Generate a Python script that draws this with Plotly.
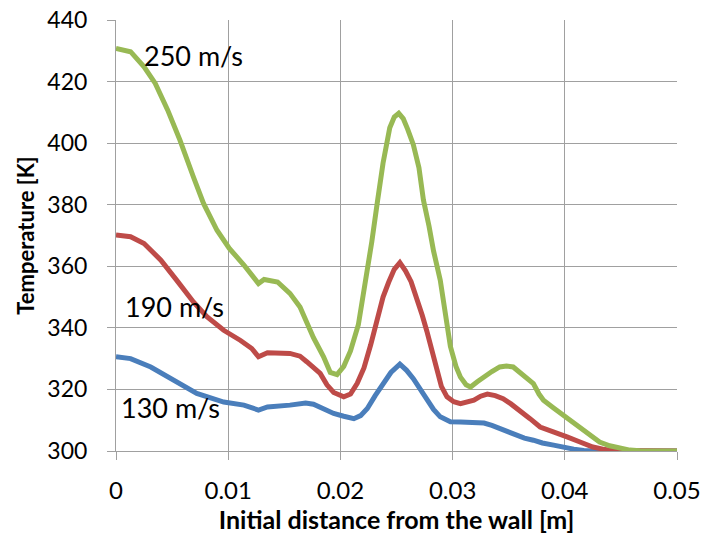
import plotly.graph_objects as go

# ---- data ----
x_130 = [0, 0.0013, 0.0031, 0.0051, 0.0072, 0.0096, 0.0114, 0.0127, 0.0135, 0.0155,
         0.0169, 0.0176, 0.0182, 0.0188, 0.0194, 0.0203, 0.0212, 0.0218, 0.0224, 0.0231,
         0.0238, 0.0245, 0.0253, 0.0259, 0.0265, 0.0271, 0.0277, 0.0283, 0.0289, 0.0298,
         0.0307, 0.0316, 0.0322, 0.0328, 0.0335, 0.0342, 0.0349, 0.0357, 0.0364, 0.0372,
         0.038, 0.039, 0.04, 0.0408, 0.0417, 0.0425, 0.05]
t_130 = [330.6, 330.0, 327.3, 323.0, 318.7, 315.9, 314.9, 313.3, 314.3, 314.9,
         315.6, 315.2, 314.3, 313.3, 312.2, 311.3, 310.5, 311.5, 313.8, 318.0,
         322.0, 325.5, 328.2, 326.2, 323.5, 320.0, 316.5, 313.5, 311.1, 309.5,
         309.4, 309.4, 309.1, 309.1, 308.3, 307.3, 306.2, 305.1, 304.2, 303.5,
         302.6, 301.9, 301.1, 300.6, 300.2, 300.0, 300.0]

x_190 = [0, 0.0013, 0.0025, 0.004, 0.0054, 0.0069, 0.0081, 0.0096, 0.0111, 0.0121,
         0.0127, 0.0135, 0.0155, 0.0164, 0.017, 0.0176, 0.0182, 0.0188, 0.0194, 0.0203,
         0.0209, 0.0215, 0.0221, 0.0227, 0.0232, 0.0238, 0.0243, 0.0248, 0.0253, 0.0258,
         0.0263, 0.0268, 0.0273, 0.0277, 0.0282, 0.0286, 0.029, 0.0295, 0.0301, 0.0307,
         0.0313, 0.0319, 0.0325, 0.0331, 0.0338, 0.0345, 0.0352, 0.036, 0.0369, 0.0378,
         0.039, 0.0402, 0.0413, 0.0425, 0.0434, 0.0443, 0.05]
t_190 = [370.2, 369.6, 367.4, 362.0, 355.5, 348.4, 343.6, 339.2, 335.9, 333.3,
         330.6, 331.9, 331.7, 330.8, 329.0, 327.3, 325.2, 321.5, 319.0, 317.6,
         318.5, 322.0, 327.0, 334.5, 341.5, 350.0, 354.8, 359.0, 361.2, 358.5,
         355.0, 350.0, 344.0, 339.0, 332.0, 326.2, 321.0, 317.6, 316.0, 315.4,
         315.8, 316.5, 317.8, 318.5, 318.0, 317.0, 315.3, 313.2, 310.5, 307.8,
         306.0, 304.6, 303.0, 301.3, 300.6, 300.2, 300.0]

x_250 = [0, 0.0013, 0.0025, 0.0035, 0.0046, 0.0057, 0.0069, 0.0078, 0.009, 0.0101,
         0.0114, 0.0127, 0.0132, 0.0144, 0.0155, 0.0164, 0.0176, 0.0185, 0.0191, 0.0197,
         0.0203, 0.0209, 0.0216, 0.0221, 0.0225, 0.0228, 0.0233, 0.0238, 0.0244, 0.0248,
         0.0252, 0.0256, 0.026, 0.0265, 0.027, 0.0274, 0.0279, 0.0283, 0.0289, 0.0294,
         0.0298, 0.0303, 0.0307, 0.0312, 0.0316, 0.0322, 0.0328, 0.0335, 0.0342, 0.0348,
         0.0354, 0.0363, 0.0372, 0.0377, 0.0381, 0.039, 0.0399, 0.0408, 0.0417, 0.0424,
         0.0431, 0.044, 0.0449, 0.0458, 0.0467, 0.05]
t_250 = [430.8, 429.7, 424.8, 419.4, 410.8, 401.0, 389.0, 380.4, 371.7, 365.8,
         360.4, 354.4, 355.7, 354.9, 351.2, 346.8, 336.8, 330.6, 325.5, 324.8,
         327.5, 332.5, 341.0, 352.0, 362.0, 368.0, 381.0, 393.5, 405.0, 408.5,
         409.7, 408.0, 404.5, 399.5, 392.0, 381.5, 373.0, 365.0, 355.5, 343.0,
         334.0, 327.5, 324.0, 321.5, 320.8, 322.5, 324.1, 325.8, 327.3, 327.6,
         327.3, 324.8, 321.9, 318.5, 316.5, 314.0, 311.6, 309.2, 306.7, 304.6,
         302.9, 301.7, 300.8, 300.3, 300.1, 300.0]

series_names = ["130 m/s", "190 m/s", "250 m/s"]
series_colors = ["#4A7EBB", "#BE4B48", "#98B954"]

x_ticks = [0, 0.01, 0.02, 0.03, 0.04, 0.05]
x_tick_labels = ["0", "0.01", "0.02", "0.03", "0.04", "0.05"]
y_ticks = [300, 320, 340, 360, 380, 400, 420, 440]

# label anchor positions (data coordinates)
label_x = [0.0003, 0.0006, 0.0023]
label_y = [314.0, 347.0, 428.5]

FONT = "Lato"
GRID = "#A0A0A0"

fig = go.Figure()
for xs, ts, name, col in zip([x_130, x_190, x_250], [t_130, t_190, t_250],
                             series_names, series_colors):
    fig.add_trace(go.Scatter(x=xs, y=ts, mode="lines", name=name,
                             line=dict(color=col, width=5)))

for name, lx, ly in zip(series_names, label_x, label_y):
    fig.add_annotation(x=lx, y=ly, text=name, showarrow=False, xanchor="left",
                       yanchor="middle", font=dict(family=FONT, size=27, color="#000000"))

fig.update_layout(
    width=702, height=541,
    margin=dict(l=115.5, r=25, t=20, b=90),
    paper_bgcolor="white", plot_bgcolor="white",
    showlegend=False,
    font=dict(family=FONT, color="#000000"),
)
fig.update_xaxes(
    range=[0, 0.05], tickvals=x_ticks, ticktext=x_tick_labels,
    showgrid=True, gridcolor=GRID, gridwidth=1,
    showline=True, linecolor=GRID, linewidth=1, mirror=False,
    ticks="outside", ticklen=8, tickcolor=GRID,
    tickfont=dict(family=FONT, size=24, color="#000000"),
    ticklabelstandoff=10,
    zeroline=False,
    title=dict(text="<b>Initial distance from the wall [m]</b>",
               font=dict(family=FONT, size=25, color="#000000"), standoff=8),
    automargin=False,
)
fig.update_yaxes(
    range=[300, 440], tickvals=y_ticks,
    showgrid=True, gridcolor=GRID, gridwidth=1,
    showline=True, linecolor=GRID, linewidth=1,
    ticks="outside", ticklen=8, tickcolor=GRID,
    tickfont=dict(family=FONT, size=23, color="#000000"),
    ticklabelstandoff=15,
    zeroline=False,
    title=dict(text="<b>Temperature [K]</b>",
               font=dict(family=FONT, size=22, color="#000000"), standoff=6),
    automargin=False,
)

fig.write_html("out.html")
